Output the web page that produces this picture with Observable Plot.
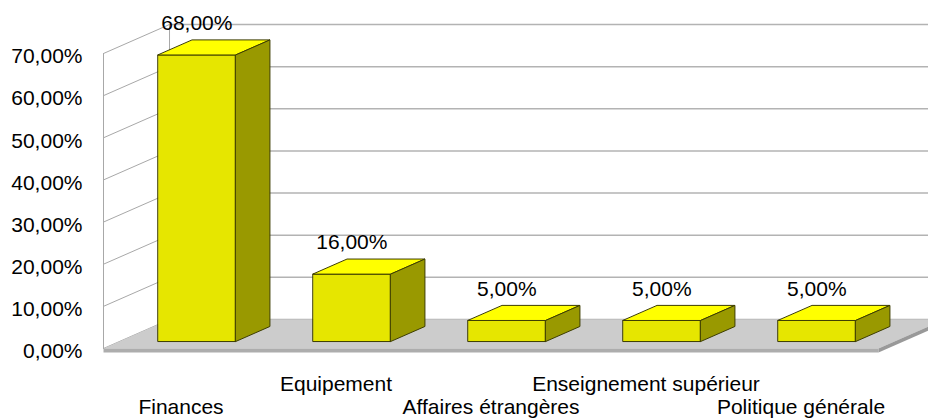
<!DOCTYPE html>
<html>
<head>
<meta charset="utf-8">
<script src="https://cdn.jsdelivr.net/npm/d3@7"></script>
<script src="https://cdn.jsdelivr.net/npm/@observablehq/plot@0.6"></script>
<style>
  html, body { margin: 0; padding: 0; background: #ffffff; }
  #chart svg { display: block; }
</style>
</head>
<body>
<div id="chart"></div>
<script>
// ---- data ----
const categories = ["Finances", "Equipement", "Affaires étrangères", "Enseignement supérieur", "Politique générale"];
const values = [68, 16, 5, 5, 5];
const yTicks = [0, 10, 20, 30, 40, 50, 60, 70];

// ---- oblique 3D projection in data units (x: category units, y: percent) ----
const DX = 0.426, DY = 6.88;          // depth vector of the whole plot box
const Z0 = 0.24, Z1 = 0.76;           // bar depth extent
const B0 = 0.25, B1 = 0.75;           // bar extent inside a category band
const FLOOR_T = 0.95;                 // floor slab thickness
const N = categories.length;
const yMax = yTicks[yTicks.length - 1];
const P = (x, y, z) => ({x: x + z * DX, y: y + z * DY});
const poly = (id, pts) => pts.map(([x, y, z]) => ({id, ...P(x, y, z)}));
const fmt = v => v.toFixed(2).replace(".", ",") + "%";

// walls
const backGrid = yTicks.flatMap(t => poly("b" + t, [[0, t, 1], [N, t, 1]]));
const leftGrid = yTicks.flatMap(t => poly("l" + t, [[0, t, 0], [0, t, 1]]))
  .concat(poly("e0", [[0, 0, 0], [0, yMax, 0]]))
  .concat(poly("e1", [[0, 0, 1], [0, yMax, 1]]));
// floor
const floorTop = poly("ft", [[0, 0, 0], [N, 0, 0], [N, 0, 1], [0, 0, 1]]);
const floorFront = poly("ff", [[0, 0, 0], [N, 0, 0], [N, -FLOOR_T, 0], [0, -FLOOR_T, 0]]);
const floorSide = poly("fs", [[N, 0, 0], [N, 0, 1], [N, -FLOOR_T, 1], [N, -FLOOR_T, 0]]);

// bars
const fronts = values.flatMap((v, i) => poly("f" + i, [[i + B0, 0, Z0], [i + B1, 0, Z0], [i + B1, v, Z0], [i + B0, v, Z0]]));
const tops = values.flatMap((v, i) => poly("t" + i, [[i + B0, v, Z0], [i + B1, v, Z0], [i + B1, v, Z1], [i + B0, v, Z1]]));
const sides = values.flatMap((v, i) => poly("s" + i, [[i + B1, 0, Z0], [i + B1, 0, Z1], [i + B1, v, Z1], [i + B1, v, Z0]]));

const valueLabels = values.map((v, i) => ({...P(i + 0.5, v, Z0), label: fmt(v)}));
const catLabels = categories.map((c, i) => ({x: i + 0.5, y: 0, label: c, row: i % 2}));

const lineOpts = (stroke, sw) => ({x: "x", y: "y", z: "id", stroke, strokeWidth: sw, curve: "linear"});
const polyOpts = (fill, stroke, sw) => ({x: "x", y: "y", z: "id", fill, stroke, strokeWidth: sw, curve: "linear-closed", strokeLinejoin: "round"});

const FS = 21;
const chart = Plot.plot({
  width: 928,
  height: 419,
  marginLeft: 103,
  marginRight: 50,
  marginTop: 53,
  marginBottom: 71,
  style: {fontFamily: "'Liberation Sans', Arial, sans-serif", fontSize: FS + "px", color: "#000", background: "#fff"},
  x: {type: "linear", domain: [0, N], axis: null},
  y: {type: "linear", domain: [0, yMax], axis: null},
  marks: [
    Plot.line(backGrid, lineOpts("#b3b3b3", 1.5)),
    Plot.line(leftGrid, lineOpts("#a8a8a8", 1)),
    Plot.line(floorTop, polyOpts("#cccccc", "none", 0)),
    Plot.line(floorFront, polyOpts("#adadad", "none", 0)),
    Plot.line(floorSide, polyOpts("#999999", "none", 0)),
    Plot.line(fronts, polyOpts("#e6e600", "#3d3d00", 1)),
    Plot.line(tops, polyOpts("#ffff00", "#3d3d00", 1)),
    Plot.line(sides, polyOpts("#999900", "#3d3d00", 1)),
    Plot.axisY(yTicks, {label: null, tickSize: 0, tickPadding: 21, tickFormat: fmt, fontSize: FS, dy: 3, fill: "#000"}),
    Plot.text(valueLabels, {x: "x", y: "y", text: "label", dy: -31.7, fontSize: FS, fill: "#000"}),
    Plot.text(catLabels.filter(d => d.row === 1), {x: "x", y: "y", text: "label", dy: 35.5, fontSize: FS, fill: "#000"}),
    Plot.text(catLabels.filter(d => d.row === 0), {x: "x", y: "y", text: "label", dy: 59, fontSize: FS, fill: "#000"})
  ]
});
document.getElementById("chart").appendChild(chart);
</script>
</body>
</html>
